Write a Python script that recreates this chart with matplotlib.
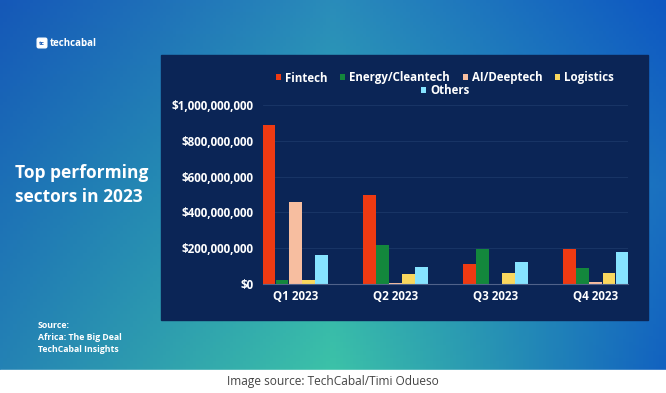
import numpy as np
import matplotlib
matplotlib.use("Agg")
import matplotlib.pyplot as plt
from matplotlib.patches import Rectangle, FancyBboxPatch
from matplotlib.colors import to_rgb

plt.rcParams['font.family'] = ['Open Sans', 'DejaVu Sans']

# ---- data ----
quarters = ["Q1 2023", "Q2 2023", "Q3 2023", "Q4 2023"]
sectors = ["Fintech", "Energy/Cleantech", "AI/Deeptech", "Logistics", "Others"]
fintech = [890e6, 496e6, 110e6, 195e6]
energy = [22e6, 217e6, 193e6, 91e6]
ai_deeptech = [460e6, 3e6, 1e6, 13e6]
logistics = [22e6, 56e6, 61e6, 59e6]
others = [164e6, 97e6, 123e6, 180e6]
yticks = [0, 200e6, 400e6, 600e6, 800e6, 1000e6]
ytick_labels = ["$0", "$200,000,000", "$400,000,000", "$600,000,000",
                "$800,000,000", "$1,000,000,000"]
colors = ["#ee3a12", "#13873c", "#f7bea0", "#f9d75e", "#86e3ff"]

W, H = 666, 393
fig = plt.figure(figsize=(W / 100, H / 100), dpi=100)

# ---- background gradient ----
bg = fig.add_axes([0, 0, 1, 1])
bg.set_xlim(0, W)
bg.set_ylim(H, 0)
bg.axis("off")
ctrl = np.array([
    [to_rgb("#1558b8"), to_rgb("#2a8cba"), to_rgb("#0e58c2")],
    [to_rgb("#1c6fb6"), to_rgb("#2ea8b0"), to_rgb("#1a70c0")],
    [to_rgb("#2482b4"), to_rgb("#3cc2a8"), to_rgb("#1262c0")],
])
ny, nx = 120, 200
yy = np.linspace(0, 2, ny)
xx = np.linspace(0, 2, nx)
img = np.zeros((ny, nx, 3))
for c in range(3):
    rows = np.array([np.interp(xx, [0, 1, 2], ctrl[r, :, c]) for r in range(3)])
    for j in range(nx):
        img[:, j, c] = np.interp(yy, [0, 1, 2], rows[:, j])
bg.imshow(img, extent=[0, W, 370, 0], aspect="auto", zorder=0)
bg.add_patch(Rectangle((0, 370), W, H - 370, color="white", zorder=1))
# chart panel
bg.add_patch(Rectangle((161, 55), 648 - 161, 320 - 55, color="#0b2556", zorder=2))

# left texts
bg.text(15, 173, "Top performing", color="white", fontsize=12.5, fontweight="bold",
        va="center", ha="left", zorder=3)
bg.text(15, 197, "sectors in 2023", color="white", fontsize=12.5, fontweight="bold",
        va="center", ha="left", zorder=3)
for yv, s in zip([326, 338, 350], ["Source:", "Africa: The Big Deal", "TechCabal Insights"]):
    bg.text(38, yv, s, color="white", fontsize=6.3, fontweight="bold",
            va="center", ha="left", zorder=3)
# logo
bg.add_patch(FancyBboxPatch((37.5, 38.5), 9, 9, boxstyle="round,pad=0.3,rounding_size=1.5",
                            color="white", zorder=3))
bg.text(42, 43.2, "tc", color="#1a5cb8", fontsize=4.5, fontweight="bold",
        ha="center", va="center", zorder=4)
bg.text(50, 43, "techcabal", color="white", fontsize=7.0, fontweight="bold",
        ha="left", va="center", zorder=3)
# caption
bg.text(333, 382, "Image source: TechCabal/Timi Odueso", color="#444444", fontsize=8.6,
        ha="center", va="center", zorder=3)

# ---- chart ----
ax = fig.add_axes([263 / W, (H - 284) / H, 365 / W, 179 / H])
ax.set_facecolor("none")
x = np.arange(len(quarters))
series = [fintech, energy, ai_deeptech, logistics, others]
step = 0.1306
bw = 0.124
handles = []
for i, (vals, col, name) in enumerate(zip(series, colors, sectors)):
    b = ax.bar(x + (i - 2) * step, vals, width=bw, color=col, label=name, zorder=3)
    handles.append(b)
half = 2 * step + bw / 2
ax.set_xlim(-half, 3 + half)
ax.set_ylim(0, 1e9)
ax.set_yticks(yticks)
ax.set_yticklabels(ytick_labels)
ax.set_xticks(x)
ax.set_xticklabels(quarters)
ax.tick_params(length=0, colors="white", labelsize=8.4)
ax.tick_params(axis="y", pad=7)
ax.tick_params(axis="x", pad=4)
for lab in ax.get_xticklabels() + ax.get_yticklabels():
    lab.set_fontweight("bold")
ax.grid(axis="y", color="#1b3769", lw=0.6, zorder=0)
for s in ["top", "right", "left"]:
    ax.spines[s].set_visible(False)
ax.spines["bottom"].set_color("#50628a")
ax.spines["bottom"].set_linewidth(0.8)
ax.spines["bottom"].set_zorder(4)

leg_kw = dict(frameon=False, handlelength=0.45, handleheight=0.45,
              handletextpad=0.35, columnspacing=1.1, labelcolor="white",
              prop={"weight": "bold", "size": 8.3})
l1 = fig.legend(handles[:4], sectors[:4], loc="center", ncol=4,
                bbox_to_anchor=(445 / W, (H - 78) / H), **leg_kw)
l2 = fig.legend(handles[4:], sectors[4:], loc="center", ncol=1,
                bbox_to_anchor=(445 / W, (H - 91) / H), **leg_kw)

fig.savefig("out.png", dpi=100)
